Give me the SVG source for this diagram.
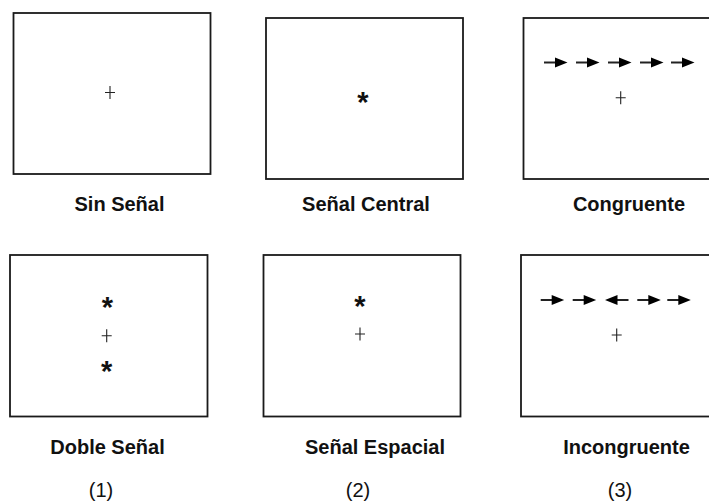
<svg xmlns="http://www.w3.org/2000/svg" xmlns:xlink="http://www.w3.org/1999/xlink" width="709" height="504" viewBox="0 0 709 504">
<style>
.box{fill:#fff;stroke:#1a1a1a;stroke-width:1.8}
.lbl{font-family:"Liberation Sans",Arial,sans-serif;font-weight:bold;font-size:20px;fill:#111;text-anchor:middle}
.num{font-family:"Liberation Sans",Arial,sans-serif;font-size:20px;fill:#111;text-anchor:middle}
.ast{font-family:"Liberation Sans",Arial,sans-serif;font-weight:bold;font-size:29px;fill:#111;text-anchor:middle}
.plus{stroke:#222;stroke-width:1.1;fill:none}
</style>
<defs>
<g id="arr">
<line x1="0" y1="0" x2="12" y2="0" stroke="#222" stroke-width="2"/>
<polygon points="11,-5 23.5,0 11,5" fill="#000"/>
</g>
<path id="plus" class="plus" d="M-5,0H5M0,-6.5V6.5"/>
</defs>
<rect width="709" height="504" fill="#fff"/>
<g id="sin-senal">
<rect class="box" x="13.5" y="13" width="197" height="161"/>
<use xlink:href="#plus" x="110" y="92.5"/>
<text class="lbl" x="119.5" y="211">Sin Señal</text>
</g>
<g id="senal-central">
<rect class="box" x="266" y="18" width="197" height="161"/>
<text class="ast" x="363" y="111.5">*</text>
<text class="lbl" x="366" y="211">Señal Central</text>
</g>
<g id="congruente">
<rect class="box" x="523.5" y="18" width="197" height="161"/>
<use xlink:href="#arr" x="544" y="62.5"/>
<use xlink:href="#arr" x="576" y="62.5"/>
<use xlink:href="#arr" x="608" y="62.5"/>
<use xlink:href="#arr" x="640" y="62.5"/>
<use xlink:href="#arr" x="671" y="62.5"/>
<use xlink:href="#plus" x="620.7" y="97.7"/>
<text class="lbl" x="629" y="211">Congruente</text>
</g>
<g id="doble-senal">
<rect class="box" x="10" y="255" width="197.5" height="161.5"/>
<text class="ast" x="107.3" y="317">*</text>
<use xlink:href="#plus" x="106.7" y="335.7"/>
<text class="ast" x="106.7" y="380.5">*</text>
<text class="lbl" x="107.5" y="454">Doble Señal</text>
<text class="num" x="101" y="497">(1)</text>
</g>
<g id="senal-espacial">
<rect class="box" x="263.5" y="255" width="197" height="161.5"/>
<text class="ast" x="360" y="315.5">*</text>
<use xlink:href="#plus" x="360" y="334"/>
<text class="lbl" x="375" y="454">Señal Espacial</text>
<text class="num" x="358" y="497">(2)</text>
</g>
<g id="incongruente">
<rect class="box" x="521" y="255" width="197" height="161.5"/>
<use xlink:href="#arr" x="540.7" y="300"/>
<use xlink:href="#arr" x="572.7" y="300"/>
<use xlink:href="#arr" transform="translate(628.5,300) scale(-1,1)"/>
<use xlink:href="#arr" x="637.3" y="300"/>
<use xlink:href="#arr" x="667.3" y="300"/>
<use xlink:href="#plus" x="616.7" y="335"/>
<text class="lbl" x="626.5" y="454">Incongruente</text>
<text class="num" x="620" y="497">(3)</text>
</g>
</svg>
